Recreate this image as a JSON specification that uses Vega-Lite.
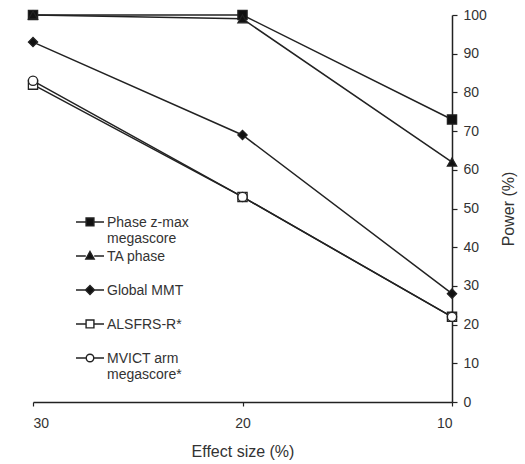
{
  "$schema": "https://vega.github.io/schema/vega-lite/v6.json",
  "width": 419,
  "height": 387,
  "autosize": "none",
  "padding": {"left": 33, "top": 15, "right": 73, "bottom": 62},
  "config": {
    "view": {"stroke": null},
    "font": "Liberation Sans",
    "axis": {"grid": false, "domainColor": "#222", "tickColor": "#222", "domainWidth": 1.5, "tickWidth": 1.2, "labelColor": "#333", "titleColor": "#333", "labelFontSize": 14, "titleFontSize": 16, "titleFontWeight": "normal"}
  },
  "data": {
    "values": [
      {"series": "Phase z-max megascore", "effect": 30, "power": 100},
      {"series": "Phase z-max megascore", "effect": 20, "power": 100},
      {"series": "Phase z-max megascore", "effect": 10, "power": 73},
      {"series": "TA phase", "effect": 30, "power": 100},
      {"series": "TA phase", "effect": 20, "power": 99},
      {"series": "TA phase", "effect": 10, "power": 62},
      {"series": "Global MMT", "effect": 30, "power": 93},
      {"series": "Global MMT", "effect": 20, "power": 69},
      {"series": "Global MMT", "effect": 10, "power": 28},
      {"series": "ALSFRS-R*", "effect": 30, "power": 82},
      {"series": "ALSFRS-R*", "effect": 20, "power": 53},
      {"series": "ALSFRS-R*", "effect": 10, "power": 22},
      {"series": "MVICT arm megascore*", "effect": 30, "power": 83},
      {"series": "MVICT arm megascore*", "effect": 20, "power": 53},
      {"series": "MVICT arm megascore*", "effect": 10, "power": 22}
    ]
  },
  "encoding": {
    "x": {"field": "effect", "type": "quantitative", "title": "Effect size (%)",
      "scale": {"domain": [10, 30], "reverse": true, "nice": false, "zero": false},
      "axis": {"values": [10, 20, 30], "tickSize": 4, "labelPadding": 10, "titlePadding": 13}},
    "y": {"field": "power", "type": "quantitative", "title": "Power (%)",
      "scale": {"domain": [0, 100], "nice": false},
      "axis": {"orient": "right", "values": [0,10,20,30,40,50,60,70,80,90,100], "tickSize": 5, "labelPadding": 6, "titleAngle": 270, "titlePadding": 30}}
  },
  "layer": [
    {
      "mark": {"type": "line", "stroke": "#222", "strokeWidth": 1.5},
      "encoding": {"detail": {"field": "series"}}
    },
    {
      "mark": {"type": "point", "filled": true, "size": 85, "stroke": "#222", "strokeWidth": 1.3, "opacity": 1},
      "encoding": {
        "shape": {"field": "series", "legend": null,
          "scale": {"domain": ["Phase z-max megascore", "TA phase", "Global MMT", "ALSFRS-R*", "MVICT arm megascore*"],
            "range": ["square", "triangle-up", "diamond", "square", "circle"]}},
        "fill": {"field": "series", "legend": null,
          "scale": {"domain": ["Phase z-max megascore", "TA phase", "Global MMT", "ALSFRS-R*", "MVICT arm megascore*"],
            "range": ["#111", "#111", "#111", "#fff", "#fff"]}}
      }
    },
    {
      "mark": {"type": "point", "filled": true, "size": 784, "opacity": 0, "stroke": "#222", "strokeWidth": 1.4},
      "encoding": {
        "shape": {"field": "series", "title": null,
          "scale": {"domain": ["Phase z-max megascore", "TA phase", "Global MMT", "ALSFRS-R*", "MVICT arm megascore*"],
            "range": [
              "M-1,-0.36H-0.28M0.28,-0.36H1M-0.28,-0.64H0.28V-0.08H-0.28Z",
              "M-1,-0.36H-0.3M0.3,-0.36H1M0,-0.68L0.3,-0.14H-0.3Z",
              "M-1,-0.36H-0.32M0.32,-0.36H1M0,-0.68L0.32,-0.36L0,-0.04L-0.32,-0.36Z",
              "M-1,-0.36H-0.28M0.28,-0.36H1M-0.28,-0.64H0.28V-0.08H-0.28Z",
              "M-1,-0.36H-0.27M0.27,-0.36H1M0.27,-0.36A0.27,0.27 0 1,1 -0.27,-0.36A0.27,0.27 0 1,1 0.27,-0.36Z"
            ]},
          "legend": {
            "orient": "none", "legendX": 42, "legendY": 197,
            "symbolSize": 784, "symbolOpacity": 1, "symbolStrokeWidth": 1.4,
            "labelFontSize": 14, "labelColor": "#333", "labelLimit": 200, "labelOffset": 2,
            "labelBaseline": "alphabetic", "rowPadding": -3,
            "labelExpr": "datum.label == 'Phase z-max megascore' ? ['Phase z-max', 'megascore'] : datum.label == 'MVICT arm megascore*' ? ['MVICT arm', 'megascore*'] : [datum.label, '']"
          }
        },
        "fill": {"field": "series", "title": null,
          "scale": {"domain": ["Phase z-max megascore", "TA phase", "Global MMT", "ALSFRS-R*", "MVICT arm megascore*"],
            "range": ["#111", "#111", "#111", "#fff", "#fff"]}}
      }
    }
  ],
  "resolve": {"scale": {"shape": "independent", "fill": "independent"}}
}
